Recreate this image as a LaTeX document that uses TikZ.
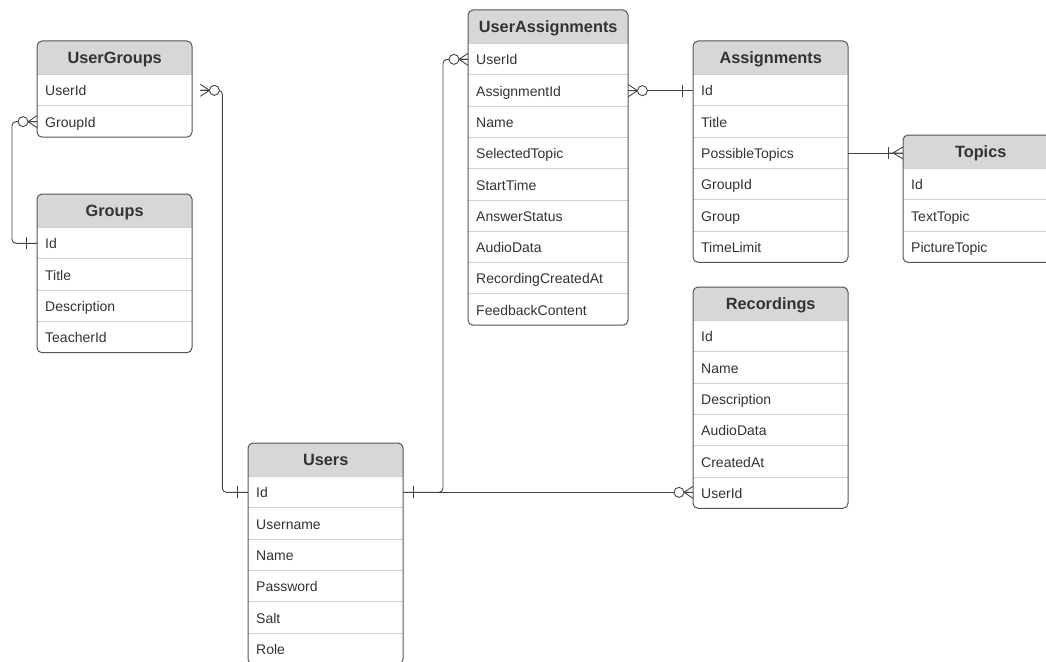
\documentclass[tikz,border=0pt]{standalone}
\usepackage{fontspec}
\setmainfont{Liberation Sans}
\usetikzlibrary{calc}
\definecolor{hdrgray}{HTML}{D7D7D7}
\definecolor{txt}{HTML}{333333}
\definecolor{bord}{HTML}{555555}
\definecolor{sepgray}{HTML}{D0D0D0}
\definecolor{lnk}{HTML}{444444}
\tikzset{
  hdr/.style={inner sep=0pt, minimum height=33.5pt, text height=13.5pt, text depth=1.8pt, font=\fontsize{16.3}{19}\selectfont\bfseries, text=txt},
  rowcell/.style={inner xsep=8pt, inner ysep=0pt, minimum height=31.3pt, text height=12.5pt, text depth=1.5pt, font=\fontsize{14}{17}\selectfont, text=txt, align=left},
  conn/.style={draw=lnk, line width=0.9pt},
  pics/crowz/.style={code={\draw[conn] (0,-6) -- (9,0) -- (0,6) (0,0) -- (9,0); \draw[conn, fill=white] (14,0) circle (5pt);}},
  pics/crowone/.style={code={\draw[conn] (0,-6) -- (10,0) -- (0,6) (0,0) -- (15,0); \draw[conn] (15,-6) -- (15,6);}},
  pics/onebar/.style={code={\draw[conn] (0,-6) -- (0,6);}},
}
\newcommand{\ertable}[7]{%
  \pgfmathsetmacro{\tblbot}{#3+33.5+#6*31.3}%
  \pgfmathsetmacro{\tbltw}{#4-16}%
  \pgfmathtruncatemacro{\tblm}{#6-1}%
  \fill[hdrgray] (#2,#3+33.5) [rounded corners=5pt] -- (#2,#3) -- (#2+#4,#3) [sharp corners] -- (#2+#4,#3+33.5) -- cycle;
  \foreach \k in {0,...,\tblm} {\draw[sepgray, line width=0.9pt] (#2,{#3+33.5+\k*31.3}) -- (#2+#4,{#3+33.5+\k*31.3});}
  \node[hdr, minimum width=#4pt, anchor=north west] (#1-h) at (#2,#3) {#5};
  \foreach \rowtext [count=\i] in {#7} {\node[rowcell, text width=\tbltw pt, anchor=north west] (#1-\i) at (#2,{#3+33.5+(\i-1)*31.3}) {\rowtext};}
  \draw[bord, line width=1pt, rounded corners=5pt] (#2,#3) rectangle (#2+#4,\tblbot);
}
\begin{document}
\begin{tikzpicture}[x=1pt,y=-1pt]
\useasboundingbox (0,0) rectangle (1046,661);
\clip (0,0) rectangle (1046,661);
\fill[white] (0,0) rectangle (1046,661);
\ertable{UG}{37}{41}{155}{UserGroups}{2}{UserId,GroupId}
\ertable{G}{37}{194}{155}{Groups}{4}{Id,Title,Description,TeacherId}
\ertable{UA}{468}{10}{160}{UserAssignments}{9}{UserId,AssignmentId,Name,SelectedTopic,StartTime,AnswerStatus,AudioData,RecordingCreatedAt,FeedbackContent}
\ertable{A}{693}{41}{155}{Assignments}{6}{Id,Title,PossibleTopics,GroupId,Group,TimeLimit}
\ertable{T}{903}{135}{155}{Topics}{3}{Id,TextTopic,PictureTopic}
\ertable{R}{693}{287}{155}{Recordings}{6}{Id,Name,Description,AudioData,CreatedAt,UserId}
\ertable{U}{248}{443}{155}{Users}{6}{Id,Username,Name,Password,Salt,Role}
% UserGroups.UserId -> Users.Id
\draw[conn, rounded corners=4pt] ($(UG-1.east)+(8,0)$) -- ++(22,0) |- (U-1.west);
\pic at ($(UG-1.east)+(8,0)$) {crowz};
\pic at ($(U-1.west)+(-11,0)$) {onebar};
% UserGroups.GroupId -> Groups.Id
\draw[conn, rounded corners=4pt] (UG-2.west) -- ++(-25,0) |- (G-1.west);
\pic[xscale=-1] at (UG-2.west) {crowz};
\pic at ($(G-1.west)+(-11,0)$) {onebar};
% UserAssignments.UserId -> Users.Id
\draw[conn, rounded corners=4pt] (UA-1.west) -- ++(-25,0) |- (U-1.east);
\pic[xscale=-1] at (UA-1.west) {crowz};
\pic at ($(U-1.east)+(10,0)$) {onebar};
% Users.Id -> Recordings.UserId
\draw[conn] (U-1.east) -- (U-1.east -| R-6.west);
\pic[xscale=-1] at (U-1.east -| R-6.west) {crowz};
% UserAssignments.AssignmentId -> Assignments.Id
\draw[conn] (UA-2.east) -- (UA-2.east -| A-1.west);
\pic at (UA-2.east) {crowz};
\pic at ($(UA-2.east -| A-1.west)+(-11,0)$) {onebar};
% Assignments.PossibleTopics -> Topics
\draw[conn] (A-3.east) -- (A-3.east -| T-h.west);
\pic[xscale=-1] at (A-3.east -| T-h.west) {crowone};
\end{tikzpicture}
\end{document}
